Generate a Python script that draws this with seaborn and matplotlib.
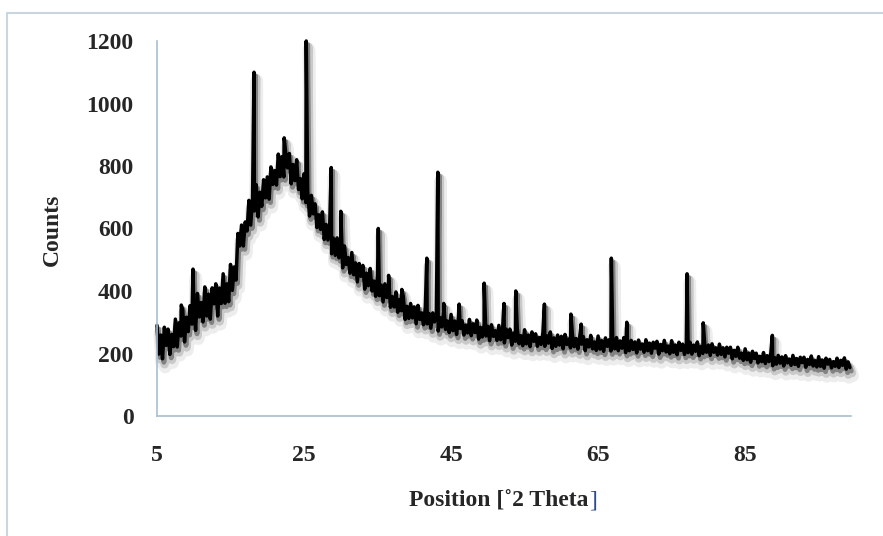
import numpy as np
import pandas as pd
import seaborn as sns
import matplotlib
matplotlib.use("Agg")
import matplotlib.pyplot as plt
import matplotlib.patheffects as pe
from matplotlib.patches import Rectangle

# ---------------- data ----------------
two_theta_start = 5.0
two_theta_step = 0.25
background_counts = [
    290, 198, 259, 183, 284, 226, 278, 197, 261, 222, 310, 221, 298, 256, 340, 237, 316, 270, 353, 294,
    366, 274, 392, 317, 363, 301, 413, 320, 390, 310, 410, 359, 423, 320, 409, 360, 455, 361, 423, 366,
    485, 402, 477, 435, 584, 544, 611, 544, 621, 592, 690, 611, 698, 656, 740, 637, 716, 671, 756, 698,
    765, 694, 797, 741, 785, 739, 838, 766, 830, 765, 843, 794, 840, 743, 805, 753, 820, 725, 760, 695,
    775, 683, 718, 640, 706, 647, 679, 603, 644, 597, 653, 565, 613, 563, 617, 519, 569, 514, 570, 506,
    544, 474, 544, 485, 507, 457, 523, 452, 490, 429, 488, 447, 482, 406, 457, 417, 472, 400, 432, 383,
    450, 385, 419, 365, 423, 379, 406, 348, 382, 349, 397, 332, 373, 337, 383, 309, 351, 312, 360, 314,
    349, 295, 354, 309, 330, 292, 348, 295, 328, 281, 330, 301, 331, 272, 315, 285, 332, 277, 304, 267,
    325, 273, 304, 261, 314, 280, 305, 259, 291, 266, 309, 257, 295, 267, 307, 246, 284, 253, 293, 256,
    287, 241, 292, 255, 273, 242, 290, 244, 274, 234, 278, 251, 278, 227, 265, 239, 280, 231, 257, 225,
    276, 231, 259, 222, 269, 239, 263, 223, 251, 229, 268, 223, 257, 233, 269, 216, 250, 223, 259, 227,
    255, 215, 261, 229, 246, 218, 262, 222, 248, 214, 253, 230, 254, 209, 244, 221, 258, 215, 237, 210,
    256, 214, 241, 207, 250, 223, 244, 208, 235, 215, 251, 209, 240, 217, 251, 203, 233, 209, 242, 213,
    237, 202, 243, 214, 230, 204, 244, 209, 233, 201, 236, 217, 239, 198, 229, 209, 242, 205, 224, 199,
    241, 204, 227, 196, 236, 210, 230, 197, 221, 203, 236, 198, 227, 207, 237, 193, 222, 200, 230, 204,
    227, 194, 231, 204, 218, 195, 230, 197, 218, 189, 220, 201, 220, 183, 210, 191, 220, 185, 201, 178,
    215, 180, 201, 172, 207, 184, 201, 170, 191, 174, 203, 168, 193, 174, 202, 161, 187, 166, 194, 169,
    189, 160, 193, 170, 182, 162, 194, 165, 184, 159, 188, 171, 188, 156, 181, 165, 192, 160, 177, 157,
    190, 159, 179, 153, 185, 166, 181, 154, 174, 159, 185, 155, 178, 162, 186, 150, 173, 155,
]
peak_positions = [8.3, 9.9, 18.2, 22.3, 25.3, 28.7, 30.0, 35.1, 36.5, 38.3, 41.7, 43.2, 44.0,
                  46.1, 49.5, 52.2, 53.8, 57.7, 61.3, 62.7, 66.8, 68.9, 77.1, 79.3, 88.7]
peak_counts = [355, 470, 1100, 890, 1200, 795, 655, 600, 450, 405, 505, 780, 360,
               358, 425, 360, 400, 358, 326, 294, 505, 300, 455, 298, 258]
x_ticks = [5, 25, 45, 65, 85]
y_ticks = [0, 200, 400, 600, 800, 1000, 1200]

bg_x = two_theta_start + two_theta_step * np.arange(len(background_counts))
df = pd.concat([
    pd.DataFrame({"theta": bg_x, "counts": background_counts}),
    pd.DataFrame({"theta": peak_positions, "counts": peak_counts}),
]).sort_values("theta").reset_index(drop=True)

# ---------------- plot ----------------
sns.set_theme(style="white")
plt.rcParams["font.family"] = ["Liberation Serif", "DejaVu Serif"]
plt.rcParams["font.weight"] = "bold"

fig = plt.figure(figsize=(8.83, 5.36), dpi=100)
ax = fig.add_axes([157 / 883, 1 - 416 / 536, (851 - 157) / 883, (416 - 41) / 536])

sns.lineplot(data=df, x="theta", y="counts", ax=ax, estimator=None, sort=True,
             color="black", linewidth=2.5, clip_on=False,
             path_effects=[pe.SimpleLineShadow(offset=(2, -6), shadow_color="black", alpha=0.07, linewidth=9),
                           pe.SimpleLineShadow(offset=(1.5, -4), shadow_color="black", alpha=0.15, linewidth=6),
                           pe.SimpleLineShadow(offset=(1, -2.5), shadow_color="black", alpha=0.35, linewidth=3.5),
                           pe.Normal()])

ax.set_xlim(5, 99.4)
ax.set_ylim(0, 1200)
ax.set_xticks(x_ticks)
ax.set_yticks(y_ticks)
ax.tick_params(axis="x", length=0, pad=21, labelsize=17)
ax.tick_params(axis="y", length=0, pad=17, labelsize=17)
for lab in ax.get_xticklabels() + ax.get_yticklabels():
    lab.set_fontweight("bold")
for s in ["top", "right"]:
    ax.spines[s].set_visible(False)
for s in ["left", "bottom"]:
    ax.spines[s].set_color("#a9bfd0")
    ax.spines[s].set_linewidth(1.2)
ax.set_xlabel("")
ax.set_ylabel("")

fig.text(52 / 883, 1 - 230 / 536, "Counts", rotation=90, ha="center", va="center",
         fontsize=17, fontweight="bold")

t1 = fig.text(0, 1 - 501 / 536, "Position [˚2 Theta", ha="left", va="center",
              fontsize=17, fontweight="bold")
fig.canvas.draw()
r = fig.canvas.get_renderer()
w1 = t1.get_window_extent(r).width
t2 = fig.text(0, 1 - 501 / 536, "]", ha="left", va="center", fontsize=17,
              fontweight="normal", color="#2e4a8a")
w2 = t2.get_window_extent(r).width
x0 = 503 - (w1 + w2) / 2
t1.set_x(x0 / 883)
t2.set_x((x0 + w1) / 883)

fig.patches.append(Rectangle((7 / 883, -0.05), 1.2, 0.05 + 1 - 13 / 536, transform=fig.transFigure,
                             fill=False, edgecolor="#c9d6e0", linewidth=1.5))

fig.savefig("out.png", dpi=100)
